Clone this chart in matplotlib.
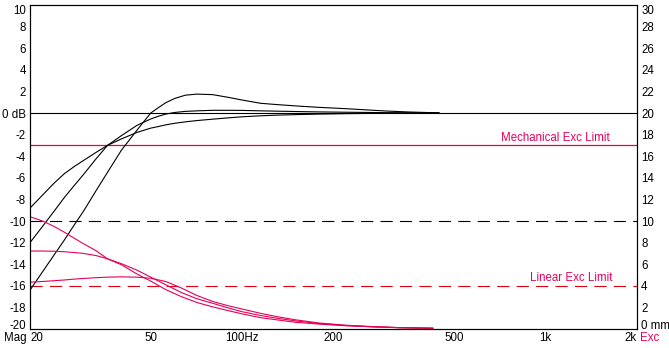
import matplotlib
matplotlib.use("Agg")
import matplotlib.pyplot as plt
import numpy as np

plt.rcParams['font.family'] = ['Liberation Sans', 'DejaVu Sans']

# ---- data ----
freq_mag = [20, 22, 24, 26, 28, 30, 33, 36, 40, 45, 50, 53, 56, 60, 65, 71, 80, 90,
            100, 115, 130, 155, 180, 220, 260, 300, 350, 400, 445]
mag_a = [-16.4, -14.7, -13.15, -11.73, -10.35, -9.1, -7.2, -5.5, -3.45, -1.6, 0.0, 0.5,
         0.95, 1.35, 1.65, 1.75, 1.7, 1.45, 1.2, 0.9, 0.78, 0.63, 0.52, 0.4, 0.28,
         0.18, 0.1, 0.05, 0.02]
mag_b = [-12.0, -10.5, -9.1, -7.8, -6.7, -5.7, -4.25, -3.0, -2.1, -1.15, -0.55, -0.3,
         -0.1, 0.05, 0.15, 0.2, 0.25, 0.25, 0.24, 0.2, 0.17, 0.13, 0.1, 0.07, 0.05,
         0.03, 0.02, 0.01, 0.0]
mag_c = [-8.8, -7.6, -6.5, -5.6, -4.95, -4.4, -3.65, -3.0, -2.4, -1.8, -1.4, -1.25,
         -1.1, -0.95, -0.82, -0.7, -0.57, -0.45, -0.35, -0.26, -0.2, -0.14, -0.1,
         -0.06, -0.04, -0.02, -0.01, 0.0, 0.0]

freq_exc = [20, 22, 24, 26, 28, 30, 33, 36, 40, 45, 50, 56, 63, 71, 80, 90, 100, 115,
            130, 150, 180, 220, 270, 330, 425]
# excursion, expressed on the dB scale (mm = dB + 20)
exc_1 = [-9.6, -10.0, -10.5, -11.05, -11.6, -12.1, -12.75, -13.5, -14.05, -14.9, -15.57,
         -16.35, -17.0, -17.55, -17.95, -18.3, -18.6, -18.95, -19.15, -19.38, -19.55,
         -19.7, -19.8, -19.88, -19.93]
exc_2 = [-12.78, -12.78, -12.8, -12.85, -12.92, -13.0, -13.2, -13.5, -13.95, -14.55,
         -15.2, -15.9, -16.62, -17.2, -17.62, -18.05, -18.4, -18.75, -19.0, -19.25,
         -19.5, -19.68, -19.8, -19.88, -19.93]
exc_3 = [-15.67, -15.6, -15.53, -15.46, -15.38, -15.32, -15.25, -15.2, -15.17, -15.2,
         -15.3, -15.6, -16.2, -16.9, -17.45, -17.85, -18.15, -18.55, -18.85, -19.15,
         -19.45, -19.65, -19.78, -19.87, -19.93]

ref_db = 0
mech_limit_db = -3
dash_db = -10
lin_limit_db = -16

xticks = [20, 50, 100, 200, 500, 1000, 2000]
xlabels = ['20', '50', '100Hz', '200', '500', '1k', '2k']
yticks_l = list(range(-20, 11, 2))
ylabels_l = [('0 dB' if v == 0 else str(v)) for v in yticks_l]
yticks_r = list(range(0, 31, 2))
ylabels_r = [('0 mm' if v == 0 else str(v)) for v in yticks_r]

MAG = '#E6005A'
RED = '#E00010'

W, H = 669, 348
fig = plt.figure(figsize=(W / 100, H / 100), dpi=100)
L, R, T, B = 30, 637, 5, 329
ax = fig.add_axes([L / W, 1 - B / H, (R - L) / W, (B - T) / H])
ax.set_xscale('log')
ax.set_xlim(20, 2000)
ax.set_ylim(-20, 10)

lw = 0.8
ax.axhline(ref_db, color='black', lw=lw)
ax.axhline(mech_limit_db, color=MAG, lw=0.9)
ax.axhline(dash_db, color='black', lw=lw, dashes=(11, 6.5))
ax.axhline(lin_limit_db, color=RED, lw=lw, dashes=(11, 6.5))

for y in (mag_a, mag_b, mag_c):
    ax.plot(freq_mag, y, color='black', lw=lw)
for y in (exc_1, exc_2, exc_3):
    ax.plot(freq_exc, y, color=MAG, lw=lw)

fs = 8.3
ax.text(1080, mech_limit_db + 0.15, 'Mechanical Exc Limit', color=MAG, fontsize=fs,
        ha='center', va='bottom')
ax.text(1215, lin_limit_db + 0.15, 'Linear Exc Limit', color=MAG, fontsize=fs,
        ha='center', va='bottom')

ax.set_xticks(xticks)
ax.set_xticklabels(xlabels, fontsize=fs)
ax.xaxis.set_minor_locator(matplotlib.ticker.NullLocator())
for lab in ax.get_xticklabels():
    if lab.get_text() == '20':
        lab.set_ha('left')
    elif lab.get_text() == '2k':
        lab.set_ha('right')
ax.set_yticks(yticks_l)
ax.set_yticklabels(ylabels_l, fontsize=fs)
ax.tick_params(axis='both', length=0)
ax.tick_params(axis='x', pad=2.5)
ax.tick_params(axis='y', pad=3)

ax2 = ax.twinx()
ax2.set_ylim(0, 30)
ax2.set_yticks(yticks_r)
ax2.set_yticklabels(ylabels_r, fontsize=fs)
ax2.tick_params(axis='y', length=0, pad=3)

for labs in (ax.get_yticklabels(), ax2.get_yticklabels()):
    labs[0].set_va('baseline')
    labs[-1].set_va('top')

for a in (ax, ax2):
    for s in a.spines.values():
        s.set_linewidth(0.8)

fig.text((L - 3) / W, 1 - 338 / H, 'Mag', fontsize=fs, ha='right', va='center')
fig.text((R + 3) / W, 1 - 338 / H, 'Exc', fontsize=fs, ha='left', va='center', color=MAG)

fig.savefig('out.png', dpi=100)
